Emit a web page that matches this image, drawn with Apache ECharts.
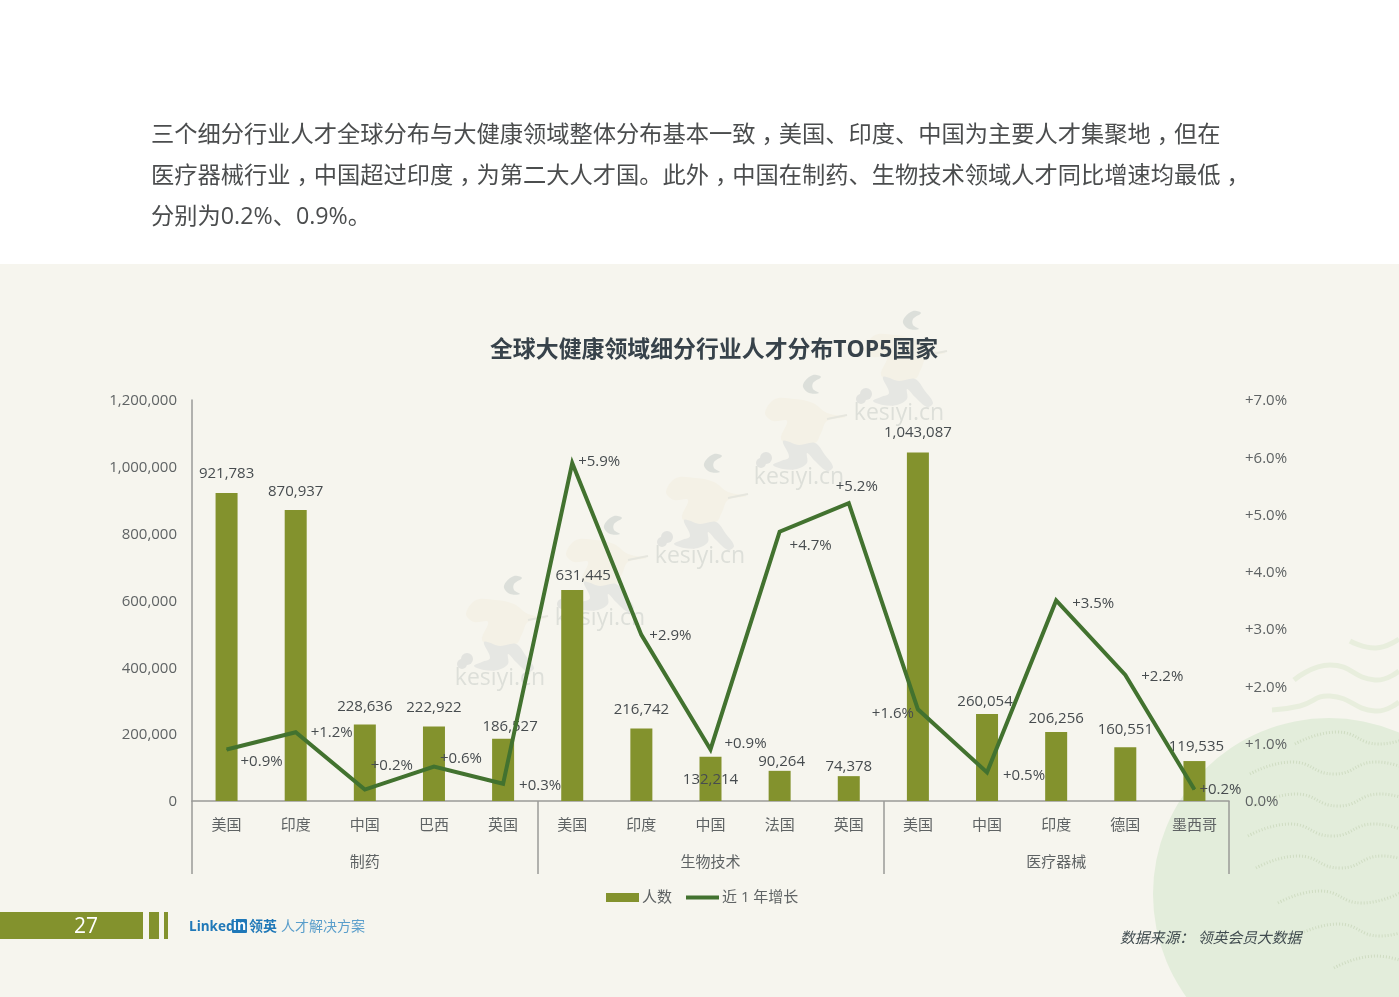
<!DOCTYPE html>
<html>
<head>
<meta charset="utf-8">
<style>
html, body { margin: 0; padding: 0; background: #fff; }
#chart { width: 1399px; height: 997px; }
</style>
<script src="https://cdn.jsdelivr.net/npm/echarts@6/dist/echarts.min.js"></script>
</head>
<body>
<div id="chart"></div>
<script>
var countries = ['美国', '印度', '中国', '巴西', '英国', '美国', '印度', '中国', '法国', '英国', '美国', '中国', '印度', '德国', '墨西哥'];
var industries = ['制药', '生物技术', '医疗器械'];
var people = [921783, 870937, 228636, 222922, 186527, 631445, 216742, 132214, 90264, 74378, 1043087, 260054, 206256, 160551, 119535];
var growth = [0.9, 1.2, 0.2, 0.6, 0.3, 5.9, 2.9, 0.9, 4.7, 5.2, 1.6, 0.5, 3.5, 2.2, 0.2];

/* label nudges, [dx, dy] from the mark */
var peopleLabelShift = [[0, -6], [0, -5], [0, -4], [0, -5], [7, 2], [11, -1], [0, -5], [0, 36], [2, 4], [0, 4], [0, -6], [-2, 1], [0, 0], [0, -4], [2, -1]];
var growthLabelShift = [[35, 12], [36, 0], [27, -24], [27, -8], [37, 2], [27, -1], [29, 1], [35, -6], [31, 14], [8, -16], [-25, 4], [37, 3], [37, 3], [37, 2], [26, 0]];

var FONT = '"Open Sans", "Noto Sans CJK SC", sans-serif';
var OLIVE = '#83922d';
var LINE_GREEN = '#42722f';
var AXIS_GREY = '#9a9a98';
var TICK_TEXT = '#5f6364';
var MARK_TEXT = '#474c4f';
var BODY_SIZE = 23.25;

var myChart = echarts.init(document.getElementById('chart'));

function wave(x, y, n, step, amp) {
	var pts = [];
	for (var i = 0; i <= n; i++) {
		pts.push([x + i * step, y + (i % 2 ? -amp : amp)]);
	}
	return pts;
}

function blob(points, fill) {
	return { type: 'polygon', shape: { points: points, smooth: 0.35 }, style: { fill: fill } };
}

function runner(tx, ty) {
	return {
		type: 'group', x: tx, y: ty, z: 1, silent: true,
		children: [
			{ type: 'text', style: { x: 0, y: 0, text: 'kesiyi.cn', font: '23px ' + FONT, fill: '#dddfd9', align: 'center', verticalAlign: 'middle' } },
			blob([[-34, -64], [-24, -78], [-4, -78], [14, -74], [28, -64], [46, -60], [28, -56], [22, -44], [16, -34], [-6, -32], [-18, -38], [-12, -56], [-26, -56]], '#f4f1e6'),
			{ type: 'line', shape: { x1: 28, y1: -58, x2: 48, y2: -62 }, style: { stroke: '#e6e6de', lineWidth: 2 } },
			blob([[-16, -36], [0, -32], [16, -34], [26, -22], [34, -10], [28, -6], [16, -16], [8, -24], [8, -14], [-2, -8], [-16, -8], [-26, -12], [-18, -16], [-10, -20]], '#e6e7e3'),
			{ type: 'circle', shape: { cx: -33, cy: -19, r: 6 }, style: { fill: '#e2e3df' } },
			{ type: 'circle', shape: { cx: -38, cy: -14, r: 5 }, style: { fill: '#e2e3df' } },
			blob([[6, -96], [14, -102], [22, -100], [14, -94], [14, -88], [20, -84], [10, -84], [4, -90]], '#dcdfda')
		]
	};
}

/* the fullwidth comma sits in the middle of its cell in the reference */
function bodyLine(str, y) {
	var out = [];
	str.split('，').forEach(function (part, i, parts) {
		var start = parts.slice(0, i).join('，').length + (i ? 1 : 0);
		out.push({ type: 'text', z: 5, style: { x: 151 + start * BODY_SIZE, y: y, text: part, font: BODY_SIZE + 'px ' + FONT, fill: '#4b4d4e', verticalAlign: 'middle' } });
		if (i < parts.length - 1) {
			out.push({ type: 'text', z: 5, style: { x: 151 + (start + part.length) * BODY_SIZE + 6, y: y, text: '，', font: BODY_SIZE + 'px ' + FONT, fill: '#4b4d4e', verticalAlign: 'middle' } });
		}
	});
	return out;
}

var decorations = [
	{ type: 'rect', z: 0, shape: { x: 0, y: 264, width: 1399, height: 733 }, style: { fill: '#f6f5ee' } },
	{ type: 'circle', z: 0, shape: { cx: 1329, cy: 894, r: 176 }, style: { fill: '#e3eddb' } },
	runner(500, 678), runner(600, 618), runner(700, 556), runner(799, 477), runner(899, 413)
];

/* pale waves in the bottom right corner */
[
	[[1350, 641], [1376, 648], [1399, 639]],
	[[1294, 680], [1330, 665], [1375, 680], [1399, 671]],
	[[1272, 710], [1300, 706], [1330, 696], [1375, 711], [1399, 702]]
].forEach(function (pts) {
	decorations.push({ type: 'polyline', z: 0, shape: { points: pts, smooth: 0.5 }, style: { fill: null, stroke: '#e8eedd', lineWidth: 5 } });
});
[[1295, 738, 3], [1250, 768, 4], [1254, 800, 4], [1248, 830, 4], [1256, 862, 4], [1278, 897, 3], [1296, 930, 3], [1334, 962, 2]].forEach(function (w) {
	decorations.push({ type: 'polyline', z: 0, shape: { points: wave(w[0], w[1], w[2], 42, 6), smooth: 0.5 }, style: { fill: null, stroke: '#cfdcc2', lineWidth: 3, lineDash: [1, 2] } });
});

decorations = decorations.concat(
	bodyLine('三个细分行业人才全球分布与大健康领域整体分布基本一致，美国、印度、中国为主要人才集聚地，但在', 135),
	bodyLine('医疗器械行业，中国超过印度，为第二大人才国。此外，中国在制药、生物技术领域人才同比增速均最低，', 176),
	bodyLine('分别为0.2%、0.9%。', 217),
	[
		{ type: 'rect', z: 5, shape: { x: 0, y: 912, width: 143, height: 27 }, style: { fill: OLIVE } },
		{ type: 'rect', z: 5, shape: { x: 149, y: 912, width: 10, height: 27 }, style: { fill: OLIVE } },
		{ type: 'rect', z: 5, shape: { x: 164, y: 912, width: 4, height: 27 }, style: { fill: OLIVE } },
		{ type: 'text', z: 6, style: { x: 86, y: 927, text: '27', font: '21px ' + FONT, fill: '#ffffff', align: 'center', verticalAlign: 'middle' } },

		{ type: 'text', z: 5, style: { x: 189, y: 927, text: 'Linked', font: 'bold 13.5px ' + FONT, fill: '#1f78b8', verticalAlign: 'middle' } },
		{ type: 'rect', z: 5, shape: { x: 232, y: 919, width: 15, height: 14, r: 1 }, style: { fill: '#1f78b8' } },
		{ type: 'text', z: 6, style: { x: 239.5, y: 926, text: 'in', font: 'bold 14px ' + FONT, fill: '#ffffff', align: 'center', verticalAlign: 'middle' } },
		{ type: 'text', z: 5, style: { x: 249, y: 927, text: '领英', font: 'bold 14px ' + FONT, fill: '#1f78b8', verticalAlign: 'middle' } },
		{ type: 'text', z: 5, style: { x: 281, y: 927, text: '人才解决方案', font: '14px ' + FONT, fill: '#5a9ecb', verticalAlign: 'middle' } },

		{ type: 'text', z: 5, style: { x: 1120, y: 939, text: '数据来源： 领英会员大数据', font: 'italic 14.8px ' + FONT, fill: '#3f4a4e', verticalAlign: 'middle' } }
	]
);

var option = {
	animation: false,
	backgroundColor: '#ffffff',
	textStyle: { fontFamily: FONT },
	title: {
		text: '全球大健康领域细分行业人才分布TOP5国家',
		left: 709,
		textAlign: 'center',
		top: 334,
		textStyle: { fontFamily: FONT, fontSize: 22.9, fontWeight: 'bold', color: '#37424a' }
	},
	legend: {
		left: 601,
		top: 885,
		itemWidth: 33,
		itemHeight: 9,
		itemGap: 14,
		textStyle: { fontFamily: FONT, fontSize: 15, color: TICK_TEXT, padding: [0, 0, 0, -2] },
		data: [
			{ name: '人数', icon: 'rect' },
			{ name: '近 1 年增长', icon: 'path://M0 0H33V4H0Z' }
		]
	},
	graphic: { elements: decorations },
	grid: { left: 192, top: 400, width: 1037, height: 401, containLabel: false },
	xAxis: [{
		type: 'category',
		position: 'bottom',
		data: countries,
		axisLine: { lineStyle: { color: AXIS_GREY, width: 1.5 } },
		axisTick: { show: false },
		axisLabel: { interval: 0, margin: 17, fontSize: 15, color: TICK_TEXT, fontFamily: FONT }
	}, {
		type: 'category',
		position: 'bottom',
		data: industries,
		axisLine: { show: false },
		axisTick: { show: true, length: 73, lineStyle: { color: AXIS_GREY, width: 1.5 } },
		axisLabel: { interval: 0, margin: 54, fontSize: 15, color: TICK_TEXT, fontFamily: FONT }
	}],
	yAxis: [{
		type: 'value',
		min: 0,
		max: 1200000,
		interval: 200000,
		splitLine: { show: false },
		axisLine: { show: true, lineStyle: { color: AXIS_GREY, width: 1.5 } },
		axisTick: { show: false },
		axisLabel: {
			margin: 15, fontSize: 15, color: TICK_TEXT, fontFamily: FONT, verticalAlign: 'top', lineHeight: 2,
			formatter: function (v) { return v.toLocaleString('en-US'); }
		}
	}, {
		type: 'value',
		min: 0,
		max: 7,
		interval: 1,
		position: 'right',
		splitLine: { show: false },
		axisLine: { show: false },
		axisTick: { show: false },
		axisLabel: {
			margin: 16, fontSize: 15, color: TICK_TEXT, fontFamily: FONT, verticalAlign: 'top', lineHeight: 2,
			formatter: function (v) { return (v === 0 ? '' : '+') + v.toFixed(1) + '%'; }
		}
	}],
	series: [{
		name: '人数',
		type: 'bar',
		xAxisIndex: 0,
		yAxisIndex: 0,
		barWidth: 22,
		z: 2,
		itemStyle: { color: OLIVE },
		data: people.map(function (v, i) {
			return { value: v, label: { offset: peopleLabelShift[i] } };
		}),
		label: {
			show: true,
			position: 'top',
			distance: 6,
			fontSize: 15,
			color: MARK_TEXT,
			fontFamily: FONT,
			formatter: function (p) { return p.value.toLocaleString('en-US'); }
		}
	}, {
		name: '近 1 年增长',
		type: 'line',
		xAxisIndex: 0,
		yAxisIndex: 1,
		z: 3,
		symbol: 'circle',
		symbolSize: 1,
		lineStyle: { color: LINE_GREEN, width: 4, join: 'miter' },
		itemStyle: { color: LINE_GREEN },
		data: growth.map(function (v, i) {
			return { value: v, label: { offset: growthLabelShift[i] } };
		}),
		label: {
			show: true,
			position: 'inside',
			fontSize: 15,
			color: MARK_TEXT,
			fontFamily: FONT,
			formatter: function (p) { return '+' + p.value.toFixed(1) + '%'; }
		}
	}]
};

myChart.setOption(option);
</script>
</body>
</html>
